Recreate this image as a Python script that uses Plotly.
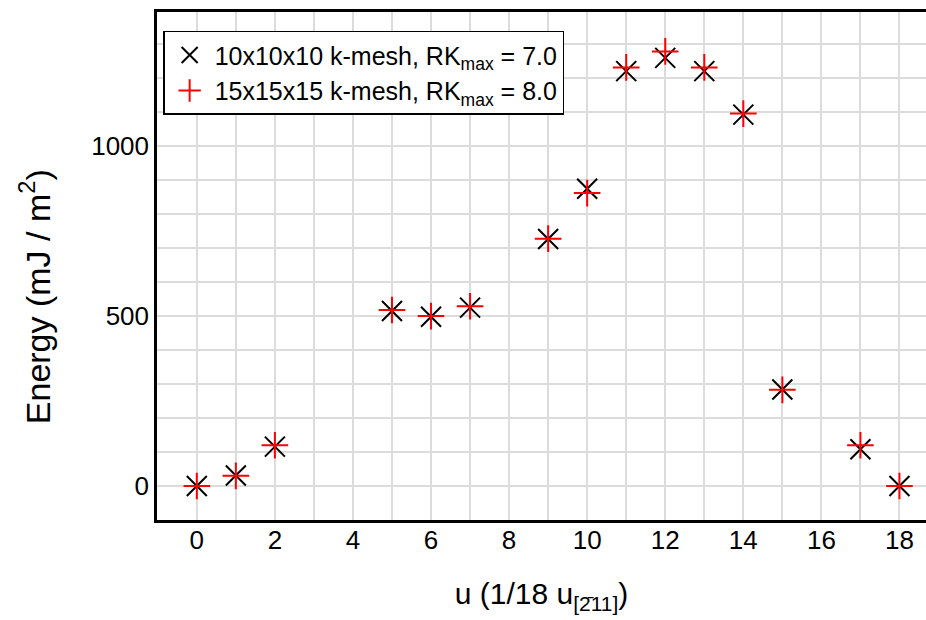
import plotly.graph_objects as go

u_black = [0, 1, 2, 5, 6, 7, 9, 10, 11, 12, 13, 14, 15, 17, 18]
e_black = [0, 31, 116, 515, 498, 525, 727, 875, 1221, 1260, 1221, 1093, 284, 108, 0]
u_red = [0, 1, 2, 5, 6, 7, 9, 10, 11, 12, 13, 14, 15, 17, 18]
e_red = [0, 30, 120, 518, 500, 529, 728, 862, 1232, 1279, 1232, 1096, 283, 120, 0]

name_black = "10x10x10 k-mesh, RK<sub>max</sub> = 7.0"
name_red = "15x15x15 k-mesh, RK<sub>max</sub> = 8.0"
x_title = "u (1/18 u<sub>[2\u0304" + "11]</sub>)"
y_title = "Energy (mJ / m<sup>2</sup>)"

FONT = "Liberation Sans, Arial, Helvetica, sans-serif"

fig = go.Figure()
fig.add_trace(go.Scatter(
    x=u_black, y=e_black, mode="markers", name=name_black,
    marker=dict(symbol="x-thin", size=20, color="black",
                line=dict(width=2, color="black")),
))
fig.add_trace(go.Scatter(
    x=u_red, y=e_red, mode="markers", name=name_red,
    marker=dict(symbol="cross-thin", size=19, color="red",
                line=dict(width=2, color="red")),
))

grid = "#dcdcdc"
fig.update_layout(
    width=926, height=620,
    margin=dict(l=157, r=0, t=12, b=100),
    plot_bgcolor="white", paper_bgcolor="white",
    font=dict(family=FONT, size=24, color="black"),
    showlegend=True,
    legend=dict(x=0.008, y=0.963, xanchor="left", yanchor="top",
                bgcolor="white", bordercolor="black", borderwidth=1.5,
                font=dict(size=25, family=FONT), tracegroupgap=0,
                itemwidth=40),
    xaxis=dict(
        range=[-1.02, 18.68], dtick=2, tick0=0,
        showgrid=True, gridcolor=grid, gridwidth=2,
        minor=dict(dtick=1, showgrid=True, gridcolor=grid, gridwidth=2),
        showline=True, linecolor="black", linewidth=2.5, mirror=True,
        zeroline=False, ticks="", ticklen=0,
        tickfont=dict(size=26), ticklabelstandoff=-5,
        title=dict(text=x_title, font=dict(size=30), standoff=30),
    ),
    yaxis=dict(
        range=[-100, 1395], dtick=500, tick0=0,
        showgrid=True, gridcolor=grid, gridwidth=2,
        minor=dict(dtick=100, showgrid=True, gridcolor=grid, gridwidth=2),
        showline=True, linecolor="black", linewidth=2.5,
        zeroline=False, ticks="", ticklen=0,
        tickfont=dict(size=26),
    ),
    annotations=[dict(
        text=y_title, textangle=-90, xref="paper", yref="paper",
        x=-0.159, y=0.44, xanchor="center", yanchor="middle",
        showarrow=False, font=dict(size=34, family=FONT),
    )],
)

fig.write_html("out.html")
